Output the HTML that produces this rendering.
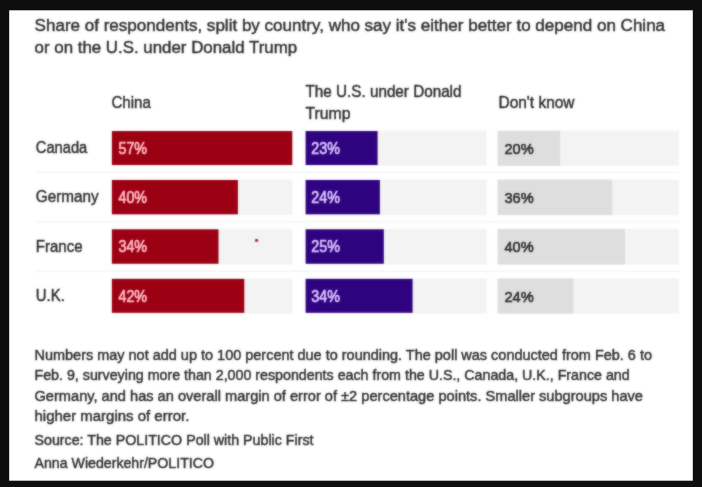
<!DOCTYPE html>
<html lang="en">
<head>
<meta charset="utf-8">
<title>Share of respondents, split by country</title>
<style>
html,body{margin:0;padding:0;background:#0e0e0e;}
body{width:702px;height:487px;overflow:hidden;}
svg{display:block;}
text{font-family:"Liberation Sans",Arial,sans-serif;fill:#2e2e2e;stroke:#2e2e2e;stroke-width:0.45px;stroke-linejoin:round;white-space:pre;}
text.v{stroke-width:0.7px;}
text.g{stroke-width:0.6px;}
</style>
</head>
<body>
<svg width="702" height="487" viewBox="0 0 702 487">
<defs>
<filter id="soft" x="0" y="0" width="702" height="487" filterUnits="userSpaceOnUse" color-interpolation-filters="sRGB">
<feGaussianBlur in="SourceGraphic" stdDeviation="1.0" result="b"/>
<feComposite in="SourceGraphic" in2="b" operator="arithmetic" k1="0" k2="0.5" k3="0.5" k4="0"/>
</filter>
</defs>
<rect x="0" y="0" width="702" height="487" fill="#0e0e0e"/>
<rect x="9.20" y="10.30" width="683.60" height="470.40" fill="#ffffff"/>
<g filter="url(#soft)">
<g id="title">
<text x="34.60" y="31.00" font-size="17.3" textLength="630.50" lengthAdjust="spacingAndGlyphs">Share of respondents, split by country, who say it's either better to depend on China</text>
<text x="34.60" y="53.00" font-size="17.3" textLength="262.50" lengthAdjust="spacingAndGlyphs">or on the U.S. under Donald Trump</text>
</g>
<g id="headers">
<text x="111.50" y="108.00" font-size="16.2" textLength="39.30" lengthAdjust="spacingAndGlyphs">China</text>
<text x="305.50" y="97.00" font-size="16.2" textLength="156.00" lengthAdjust="spacingAndGlyphs">The U.S. under Donald</text>
<text x="305.50" y="119.00" font-size="16.2" textLength="45.00" lengthAdjust="spacingAndGlyphs">Trump</text>
<text x="498.50" y="108.00" font-size="16.2" textLength="76.00" lengthAdjust="spacingAndGlyphs">Don't know</text>
</g>
<g id="rows">
<text x="35.80" y="153.00" font-size="16.3" textLength="51.50" lengthAdjust="spacingAndGlyphs">Canada</text>
<rect x="111.85" y="130.65" width="180.55" height="35.15" fill="#f3f3f3"/>
<rect x="111.85" y="131.05" width="180.45" height="33.95" fill="#9c0013"/>
<text class="v" x="118.45" y="154.00" font-size="15.6" textLength="28.6" lengthAdjust="spacingAndGlyphs" style="fill:#ffbcc4;stroke:#ffbcc4">57%</text>
<rect x="305.60" y="130.65" width="181.10" height="35.15" fill="#f3f3f3"/>
<rect x="305.60" y="131.05" width="72.00" height="33.95" fill="#2f0380"/>
<text class="v" x="311.30" y="154.00" font-size="15.6" textLength="28.6" lengthAdjust="spacingAndGlyphs" style="fill:#dbc3ff;stroke:#dbc3ff">23%</text>
<rect x="497.60" y="130.65" width="181.30" height="35.15" fill="#f3f3f3"/>
<rect x="497.60" y="130.65" width="62.60" height="35.15" fill="#dedede"/>
<text class="g" x="504.50" y="154.00" font-size="15.0" textLength="29.2" lengthAdjust="spacingAndGlyphs" style="fill:#2e2e2e;stroke:#2e2e2e">20%</text>
<rect x="35.00" y="172.00" width="645.00" height="1.00" fill="#f1f1f1"/>
<text x="35.80" y="202.00" font-size="16.3" textLength="63.00" lengthAdjust="spacingAndGlyphs">Germany</text>
<rect x="111.85" y="179.60" width="180.55" height="35.50" fill="#f3f3f3"/>
<rect x="111.85" y="180.00" width="126.05" height="34.30" fill="#9c0013"/>
<text class="v" x="118.45" y="203.00" font-size="15.6" textLength="28.6" lengthAdjust="spacingAndGlyphs" style="fill:#ffbcc4;stroke:#ffbcc4">40%</text>
<rect x="305.60" y="179.60" width="181.10" height="35.50" fill="#f3f3f3"/>
<rect x="305.60" y="180.00" width="74.30" height="34.30" fill="#2f0380"/>
<text class="v" x="311.30" y="203.00" font-size="15.6" textLength="28.6" lengthAdjust="spacingAndGlyphs" style="fill:#dbc3ff;stroke:#dbc3ff">24%</text>
<rect x="497.60" y="179.60" width="181.30" height="35.50" fill="#f3f3f3"/>
<rect x="497.60" y="179.60" width="114.60" height="35.50" fill="#dedede"/>
<text class="g" x="504.50" y="203.00" font-size="15.0" textLength="29.2" lengthAdjust="spacingAndGlyphs" style="fill:#2e2e2e;stroke:#2e2e2e">36%</text>
<rect x="35.00" y="221.30" width="645.00" height="1.00" fill="#f1f1f1"/>
<text x="35.80" y="252.00" font-size="16.3" textLength="46.70" lengthAdjust="spacingAndGlyphs">France</text>
<rect x="111.85" y="228.90" width="180.55" height="35.65" fill="#f3f3f3"/>
<rect x="111.85" y="229.30" width="106.65" height="34.45" fill="#9c0013"/>
<text class="v" x="118.45" y="252.00" font-size="15.6" textLength="28.6" lengthAdjust="spacingAndGlyphs" style="fill:#ffbcc4;stroke:#ffbcc4">34%</text>
<rect x="305.60" y="228.90" width="181.10" height="35.65" fill="#f3f3f3"/>
<rect x="305.60" y="229.30" width="78.20" height="34.45" fill="#2f0380"/>
<text class="v" x="311.30" y="252.00" font-size="15.6" textLength="28.6" lengthAdjust="spacingAndGlyphs" style="fill:#dbc3ff;stroke:#dbc3ff">25%</text>
<rect x="497.60" y="228.90" width="181.30" height="35.65" fill="#f3f3f3"/>
<rect x="497.60" y="228.90" width="127.50" height="35.65" fill="#dedede"/>
<text class="g" x="504.50" y="252.00" font-size="15.0" textLength="29.2" lengthAdjust="spacingAndGlyphs" style="fill:#2e2e2e;stroke:#2e2e2e">40%</text>
<rect x="35.00" y="270.80" width="645.00" height="1.00" fill="#f1f1f1"/>
<text x="35.80" y="301.00" font-size="16.3" textLength="29.00" lengthAdjust="spacingAndGlyphs">U.K.</text>
<rect x="111.85" y="278.45" width="180.55" height="35.15" fill="#f3f3f3"/>
<rect x="111.85" y="278.85" width="132.45" height="33.95" fill="#9c0013"/>
<text class="v" x="118.45" y="302.00" font-size="15.6" textLength="28.6" lengthAdjust="spacingAndGlyphs" style="fill:#ffbcc4;stroke:#ffbcc4">42%</text>
<rect x="305.60" y="278.45" width="181.10" height="35.15" fill="#f3f3f3"/>
<rect x="305.60" y="278.85" width="107.00" height="33.95" fill="#2f0380"/>
<text class="v" x="311.30" y="302.00" font-size="15.6" textLength="28.6" lengthAdjust="spacingAndGlyphs" style="fill:#dbc3ff;stroke:#dbc3ff">34%</text>
<rect x="497.60" y="278.45" width="181.30" height="35.15" fill="#f3f3f3"/>
<rect x="497.60" y="278.45" width="75.80" height="35.15" fill="#dedede"/>
<text class="g" x="504.50" y="302.00" font-size="15.0" textLength="29.2" lengthAdjust="spacingAndGlyphs" style="fill:#2e2e2e;stroke:#2e2e2e">24%</text>
<circle cx="256.6" cy="240.4" r="1.7" fill="#b5302c"/>
</g>
<g id="notes">
<text x="34.50" y="360.00" font-size="14.7" textLength="617.50" lengthAdjust="spacingAndGlyphs">Numbers may not add up to 100 percent due to rounding. The poll was conducted from Feb. 6 to</text>
<text x="34.50" y="380.00" font-size="14.7" textLength="595.20" lengthAdjust="spacingAndGlyphs">Feb. 9, surveying more than 2,000 respondents each from the U.S., Canada, U.K., France and</text>
<text x="34.50" y="401.00" font-size="14.7" textLength="608.50" lengthAdjust="spacingAndGlyphs">Germany, and has an overall margin of error of ±2 percentage points. Smaller subgroups have</text>
<text x="34.50" y="421.00" font-size="14.7" textLength="154.80" lengthAdjust="spacingAndGlyphs">higher margins of error.</text>
<text x="34.50" y="445.00" font-size="14.7" textLength="279.00" lengthAdjust="spacingAndGlyphs">Source: The POLITICO Poll with Public First</text>
<text x="34.50" y="468.00" font-size="14.7" textLength="179.50" lengthAdjust="spacingAndGlyphs">Anna Wiederkehr/POLITICO</text>
</g>
</g>
</svg>
</body>
</html>
